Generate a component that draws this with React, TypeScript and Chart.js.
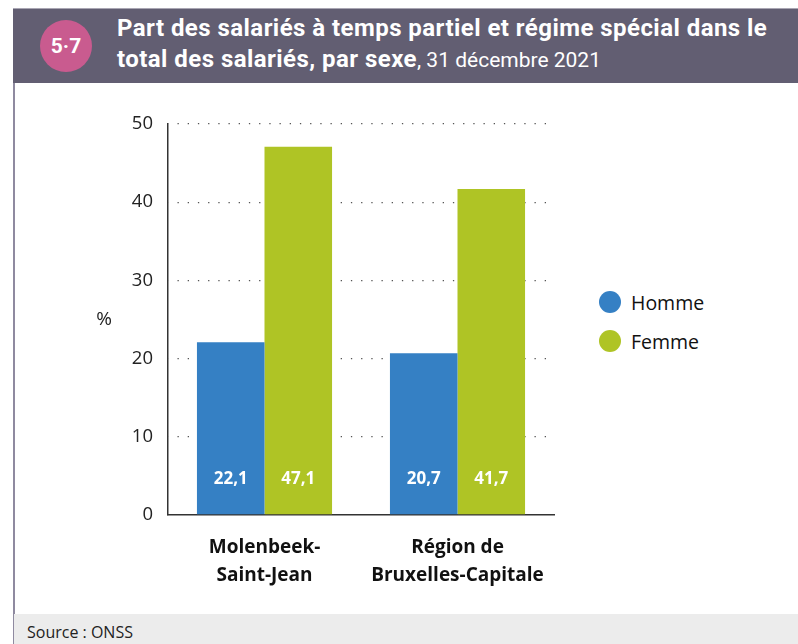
import React, { useEffect, useRef } from "react";
import { Chart, registerables } from "chart.js";

Chart.register(...registerables);

const categories: string[][] = [["Molenbeek-", "Saint-Jean"], ["Région de", "Bruxelles-Capitale"]];
const hommeValues = [22.1, 20.7];
const femmeValues = [47.1, 41.7];
const seriesNames = ["Homme", "Femme"];
const seriesColors = ["#3580c4", "#afc425"];
const yTicks = [0, 10, 20, 30, 40, 50];

const FONT = "'Open Sans', 'Noto Sans', sans-serif";

const labelsPlugin = {
  id: "barLabels",
  afterDatasetsDraw(chart: any) {
    const { ctx, scales } = chart;
    const y = scales.y.getPixelForValue(4.6);
    ctx.save();
    ctx.fillStyle = "#ffffff";
    ctx.font = `bold 17px ${FONT}`;
    ctx.textAlign = "center";
    ctx.textBaseline = "middle";
    chart.data.datasets.forEach((ds: any, i: number) => {
      const meta = chart.getDatasetMeta(i);
      meta.data.forEach((bar: any, j: number) => {
        ctx.fillText(String(ds.data[j]).replace(".", ","), bar.x, y);
      });
    });
    // y axis title
    ctx.fillStyle = "#222";
    ctx.font = `19px ${FONT}`;
    const ca = chart.chartArea;
    ctx.fillText("%", ca.left - 64, (ca.top + ca.bottom) / 2);
    ctx.restore();
  },
};

export default function App() {
  const ref = useRef<HTMLCanvasElement>(null);
  useEffect(() => {
    if (!ref.current) return;
    const chart = new Chart(ref.current, {
      type: "bar",
      data: {
        labels: categories,
        datasets: [
          { label: seriesNames[0], data: hommeValues, backgroundColor: seriesColors[0] },
          { label: seriesNames[1], data: femmeValues, backgroundColor: seriesColors[1] },
        ],
      },
      options: {
        animation: false,
        responsive: false,
        maintainAspectRatio: false,
        layout: { padding: { left: 74, right: 20, top: 41, bottom: 0 } },
        plugins: { legend: { display: false }, tooltip: { enabled: false } },
        datasets: { bar: { barPercentage: 1, categoryPercentage: 0.7 } },
        scales: {
          x: {
            grid: { display: false, drawTicks: false },
            border: { display: true, color: "#333", width: 1.5 },
            ticks: {
              padding: 19,
              color: "#111",
              font: { family: FONT, size: 19, weight: "bold", lineHeight: 1.47 },
              maxRotation: 0,
              autoSkip: false,
            },
            afterFit(scale: any) {
              scale.height = 99;
            },
          },
          y: {
            min: 0,
            max: 50,
            afterBuildTicks(scale: any) {
              scale.ticks = yTicks.map((v) => ({ value: v }));
            },
            grid: {
              drawTicks: false,
              color: (c: any) => (c.tick && c.tick.value === 0 ? "rgba(0,0,0,0)" : "#555"),
              lineWidth: 1.3,
            },
            border: { display: true, color: "#333", width: 1.5, dash: [1.3, 8.9], dashOffset: -9 },
            ticks: {
              padding: 15,
              color: "#222",
              font: { family: FONT, size: 18.5 },
            },
            afterFit(scale: any) {
              scale.width = 80;
            },
          },
        },
      },
      plugins: [labelsPlugin],
    });
    return () => chart.destroy();
  }, []);

  return (
    <div
      style={{
        position: "fixed",
        left: 0,
        top: 0,
        width: 798,
        height: 644,
        background: "#fff",
        overflow: "hidden",
        fontFamily: FONT,
      }}
    >
      <div
        style={{
          position: "absolute",
          left: 13,
          top: 8,
          width: 785,
          height: 75,
          background: "#625e72",
          borderTop: "1px solid #a9a6b3",
          boxSizing: "border-box",
        }}
      />
      <div
        style={{
          position: "absolute",
          left: 40,
          top: 20,
          width: 52,
          height: 52,
          borderRadius: "50%",
          background: "#c95b8f",
          color: "#fff",
          fontFamily: "Roboto, sans-serif",
          fontWeight: 700,
          fontSize: 21,
          display: "flex",
          alignItems: "center",
          justifyContent: "center",
        }}
      >
        5·7
      </div>
      <div
        style={{
          position: "absolute",
          left: 117,
          top: 13,
          width: 680,
          color: "#fff",
          fontFamily: "Roboto, sans-serif",
          fontSize: 24,
          letterSpacing: 0.45,
          lineHeight: "31px",
          fontWeight: 700,
          whiteSpace: "nowrap",
        }}
      >
        <div>Part des salariés à temps partiel et régime spécial dans le</div>
        <div>
          total des salariés, par sexe
          <span style={{ fontWeight: 400, fontSize: 21, letterSpacing: 0 }}>, 31 décembre 2021</span>
        </div>
      </div>
      <div style={{ position: "absolute", left: 13, top: 83, width: 1.5, height: 561, background: "#8f8aa0" }} />
      <div style={{ position: "absolute", left: 14, top: 614, width: 784, height: 30, background: "#ececec" }} />
      <div
        style={{
          position: "absolute",
          left: 27,
          top: 621,
          fontSize: 16,
          color: "#222",
          whiteSpace: "nowrap",
        }}
      >
        Source : ONSS
      </div>
      <canvas
        ref={ref}
        width={560}
        height={531}
        style={{ position: "absolute", left: 14, top: 83, width: 560, height: 531 }}
      />
      {seriesNames.map((name, i) => (
        <div
          key={name}
          style={{
            position: "absolute",
            left: 599,
            top: 291 + i * 39,
            height: 22,
            display: "flex",
            alignItems: "center",
            whiteSpace: "nowrap",
          }}
        >
          <span
            style={{
              display: "inline-block",
              width: 22,
              height: 22,
              borderRadius: "50%",
              background: seriesColors[i],
              marginRight: 10,
            }}
          />
          <span style={{ fontSize: 19.5, color: "#111" }}>{name}</span>
        </div>
      ))}
    </div>
  );
}
